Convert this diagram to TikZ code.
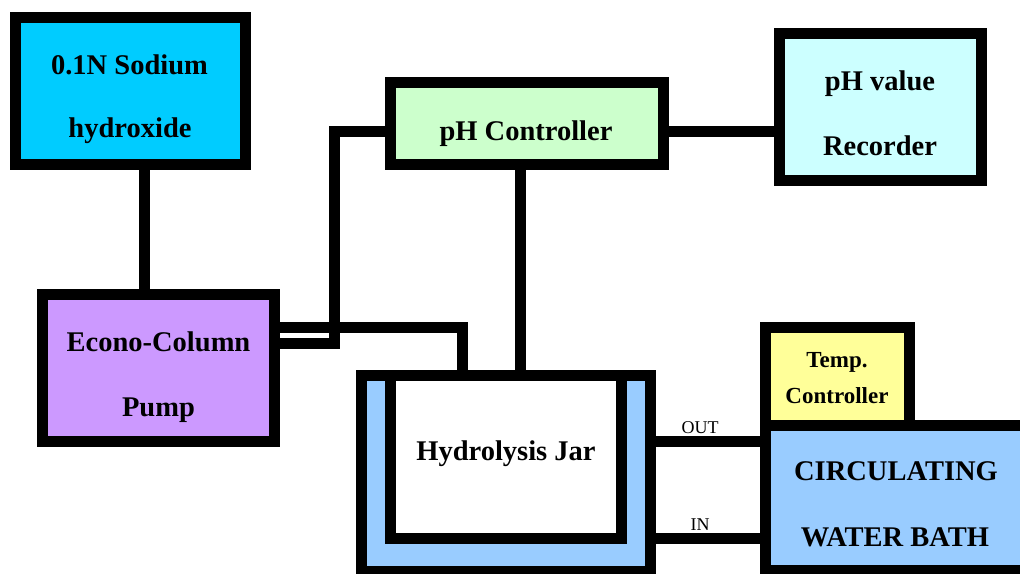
\documentclass[tikz,border=0pt]{standalone}
\usepackage{fontspec}
\setmainfont{Liberation Serif}
\definecolor{sodiumc}{HTML}{00CCFF}
\definecolor{ctrlc}{HTML}{CCFFCC}
\definecolor{recc}{HTML}{CCFFFF}
\definecolor{pumpc}{HTML}{CC99FF}
\definecolor{waterc}{HTML}{99CCFF}
\definecolor{tempc}{HTML}{FFFF99}
\tikzset{
  box/.style={draw=black, line width=11pt, rectangle, inner sep=0pt},
  conn/.style={draw=black, line width=11pt},
  big/.style={font=\bfseries\fontsize{28.5}{30}\selectfont, anchor=base, inner sep=0pt},
  mid/.style={font=\bfseries\fontsize{23}{25}\selectfont, anchor=base, inner sep=0pt},
  tiny/.style={font=\fontsize{18}{20}\selectfont, anchor=base, inner sep=0pt}
}
\begin{document}
\begin{tikzpicture}[x=1pt, y=-1pt]
\useasboundingbox (0,0) rectangle (1020,573);
\clip (0,0) rectangle (1020,573);
\fill[white] (0,0) rectangle (1020,573);
% boxes
\node[box, fill=sodiumc, minimum width=230pt, minimum height=147pt] (sodium) at (130,91) {};
\node[box, fill=ctrlc, minimum width=273pt, minimum height=82pt] (ctrl) at (527,123.5) {};
\node[box, fill=recc, minimum width=202pt, minimum height=147pt] (rec) at (880.5,107) {};
\node[box, fill=pumpc, minimum width=232pt, minimum height=147pt] (pump) at (158.5,368) {};
\node[box, fill=waterc, minimum width=289pt, minimum height=196pt] (jar) at (505.5,473.5) {};
\node[box, fill=white, minimum width=231.5pt, minimum height=163pt] (jarin) at (505.75,457) {};
\node[box, fill=tempc, minimum width=144pt, minimum height=97.5pt] (temp) at (837,376.25) {};
\node[box, fill=waterc, minimum width=280pt, minimum height=145.5pt] (bath) at (905,497.75) {};
% connectors
\coordinate (xa) at (144.5,0);
\coordinate (ya) at (0,131);
\coordinate (xb) at (520,0);
\coordinate (yc) at (0,327.5);
\coordinate (xc) at (462,0);
\coordinate (yd) at (0,343.5);
\coordinate (xd) at (334,0);
\coordinate (yo) at (0,441);
\coordinate (yi) at (0,538.5);
\draw[conn] (sodium.south -| xa) -- (pump.north -| xa);
\draw[conn] (ctrl.east |- ya) -- (rec.west |- ya);
\draw[conn] (ctrl.south -| xb) -- (jar.north -| xb);
\draw[conn] (pump.east |- yc) -| (jar.north -| xc);
\draw[conn] (pump.east |- yd) -- (xd |- yd) |- (ctrl.west |- ya);
\draw[conn] (jar.east |- yo) -- (bath.west |- yo);
\draw[conn] (jar.east |- yi) -- (bath.west |- yi);
% texts
\node[big] (tsod1) at (129.5,74) {0.1N Sodium};
\node[big] (tsod2) at (130,137) {hydroxide};
\node[big] (tctrl) at (526,140) {pH Controller};
\node[big] (trec1) at (880,90) {pH value};
\node[big] (trec2) at (880,155) {Recorder};
\node[big] (tpump1) at (158.5,351) {Econo-Column};
\node[big] (tpump2) at (158.5,416) {Pump};
\node[big] (tjar) at (506,460) {Hydrolysis Jar};
\node[mid] (ttemp1) at (837,367) {Temp.};
\node[mid] (ttemp2) at (837,403) {Controller};
\node[big] (tbath1) at (896,480) {CIRCULATING};
\node[big] (tbath2) at (895,546) {WATER BATH};
\node[tiny] (tout) at (700,433) {OUT};
\node[tiny] (tin) at (700,530) {IN};
\end{tikzpicture}
\end{document}
